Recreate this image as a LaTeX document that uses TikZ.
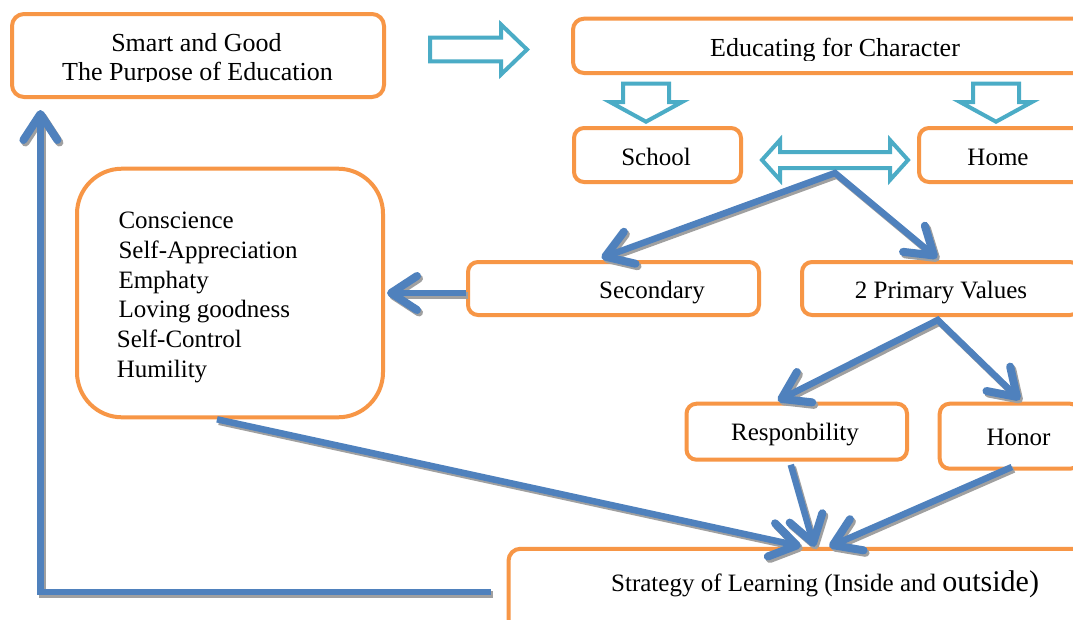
\documentclass[tikz,border=0pt]{standalone}
\usepackage{fontspec}
\setmainfont{Liberation Serif}
\usetikzlibrary{arrows.meta}
\definecolor{orangeC}{HTML}{F79646}
\definecolor{blueC}{HTML}{4F81BD}
\definecolor{cyanC}{HTML}{4BACC6}
\definecolor{shadowC}{HTML}{A0A0A0}
\newcommand\conncolor{blueC}
\newcommand\drawconnectors{%
\draw[bfork] ([xshift=-12pt,yshift=2pt]sec.north) -- (fork1) -- ([xshift=-4pt,yshift=2pt]prim.north);
\draw[barrow] ([yshift=-4.5pt]sec.west) -- ([xshift=2pt]values.east);
\draw[bfork] ([xshift=-19pt,yshift=1pt]resp.north) -- (fork2) -- ([xshift=10pt,yshift=2pt]honor.north);
\draw[barrow] ([xshift=-13pt]values.south) -- ([xshift=1.5pt,yshift=0.5pt]strat.north);
\draw[barrow] ([xshift=-6pt,yshift=-3pt]resp.south) -- ([xshift=15pt,yshift=0pt]strat.north);
\draw[barrow] ([xshift=2pt,yshift=3.7pt]honor.south) -- ([xshift=30pt,yshift=0pt]strat.north);
\draw[barrow] ([xshift=-15.7pt]strat.west) -| ([xshift=30.4pt,yshift=-11pt]purpose.south west);
}
\begin{document}
\begin{tikzpicture}[x=1pt,y=-1pt,
  box/.style={draw=orangeC, line width=4pt, rounded corners=11pt, fill=white, inner sep=0pt, rectangle},
  txt/.style={font=\fontsize{25}{30}\selectfont, inner sep=0pt, anchor=base},
  txtbig/.style={font=\fontsize{26}{30}\selectfont, inner sep=0pt, anchor=base},
  hollow/.style={draw=cyanC, line width=4pt, fill=white, line join=miter},
  barrow/.style={draw=\conncolor, line width=6.5pt, line join=miter, -{Straight Barb[length=26pt,width=34pt,round,line width=1.5pt 1]}},
  bfork/.style={draw=\conncolor, line width=6.5pt, line join=miter, {Straight Barb[length=26pt,width=34pt,round,line width=1.5pt 1]}-{Straight Barb[length=26pt,width=34pt,round,line width=1.5pt 1]}}
]
\clip (0,0) rectangle (1073,619);
\fill[white] (0,0) rectangle (1073,619);

% boxes
\node[box, minimum width=372, minimum height=83, rounded corners=12pt] (purpose) at (198,55.5) {};
\node[box, minimum width=517, minimum height=54.3] (edu) at (831.5,45.85) {};
\node[box, minimum width=167, minimum height=54, rounded corners=10pt] (school) at (657.5,155) {};
\node[box, minimum width=171, minimum height=54, rounded corners=10pt] (home) at (1004.5,155) {};
\node[box, minimum width=291, minimum height=53, rounded corners=10pt] (sec) at (613.5,288.5) {};
\node[box, minimum width=278, minimum height=53, rounded corners=10pt] (prim) at (941,288.5) {};
\node[box, minimum width=306, minimum height=248.6, rounded corners=45pt] (values) at (230,293) {};
\node[box, minimum width=220.5, minimum height=56, rounded corners=10pt] (resp) at (796.75,431.7) {};
\node[box, minimum width=140.3, minimum height=65, rounded corners=10pt] (honor) at (1009.85,436.2) {};
\node[box, minimum width=581.5, minimum height=86, rounded corners=12pt] (strat) at (799.25,591.75) {};

% hollow block arrows
\draw[hollow] (430,37.7) -- (501,37.7) -- (501,24.5) -- (527,49.5) -- (501,74.5) -- (501,61.3) -- (430,61.3) -- cycle;
\draw[hollow] (623,83.7) -- (669,83.7) -- (669,102) -- (682,102) -- (646,121.7) -- (610,102) -- (623,102) -- cycle;
\draw[hollow] (973,83.7) -- (1019,83.7) -- (1019,102) -- (1032,102) -- (996,121.7) -- (960,102) -- (973,102) -- cycle;
\draw[hollow] (762,160) -- (780,140) -- (780,152) -- (890,152) -- (890,140) -- (908,160) -- (890,180) -- (890,168) -- (780,168) -- (780,180) -- cycle;

% blue connectors with shadow
\coordinate (fork1) at (835,173);
\coordinate (fork2) at (937.7,320);
\begin{scope}[transform canvas={shift={(2pt,-2.5pt)}}]
\renewcommand\conncolor{shadowC}
\drawconnectors
\end{scope}
\drawconnectors

% texts
\begin{scope}
\clip (14,16) rectangle (382,81);
\node[txtbig] (purpose-l1) at (196.5,51.7) {Smart and Good};
\node[txtbig] (purpose-l2) at (197.5,80) {The Purpose of Education};
\end{scope}
\begin{scope}
\clip (575,20) rectangle (1073,60);
\node[txtbig] (edu-t) at (835,56.7) {Educating for Character};
\end{scope}
\node[txt] (school-t) at (656,165) {School};
\node[txt] (home-t) at (998,165) {Home};
\node[txt] (sec-t) at (652,298) {Secondary};
\node[txt] (prim-t) at (941,298) {2 Primary Values};
\node[txt] (resp-t) at (795,440) {Responbility};
\node[txt] (honor-t) at (1018.5,445) {Honor};
\node[txt, anchor=base west] (strat-t) at (611,591.7) {Strategy of Learning (Inside and {\fontsize{30}{36}\selectfont outside)}};
\node[txt, anchor=base west] (v1) at (118.3,228.3) {Conscience};
\node[txt, anchor=base west] (v2) at (118.3,258.3) {Self-Appreciation};
\node[txt, anchor=base west] (v3) at (118.3,288.3) {Emphaty};
\node[txt, anchor=base west] (v4) at (118.3,317.3) {Loving goodness};
\node[txt, anchor=base west] (v5) at (116.7,347.3) {Self-Control};
\node[txt, anchor=base west] (v6) at (116.7,377.3) {Humility};
\end{tikzpicture}
\end{document}
